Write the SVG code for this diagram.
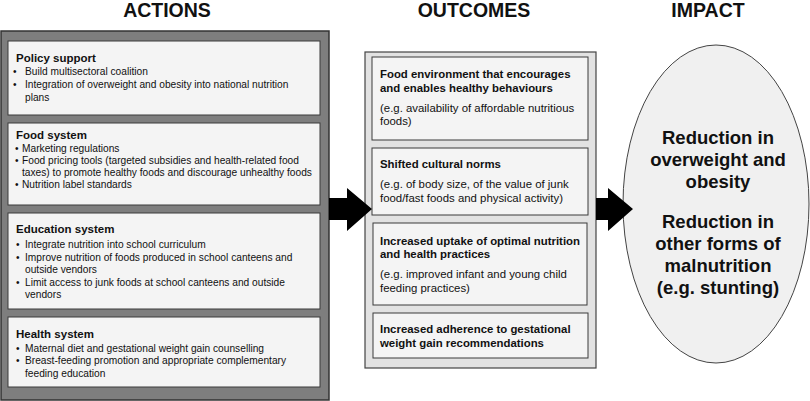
<svg xmlns="http://www.w3.org/2000/svg" width="810" height="401" viewBox="0 0 810 401">
<style>
text{font-family:"Liberation Sans",Arial,sans-serif;fill:#111}
.hdr{font-size:19.5px;font-weight:bold;text-anchor:middle}
.ib{fill:#f4f4f4;stroke:#3a3a3a;stroke-width:1}
.at{font-size:11.5px;font-weight:bold}
.ai{font-size:10.2px}
.ot{font-size:11.4px;font-weight:bold}
.oi{font-size:11.4px}
.im{font-size:18.5px;font-weight:bold;text-anchor:middle}
</style>
<text class="hdr" x="167" y="17">ACTIONS</text>
<text class="hdr" x="474" y="17">OUTCOMES</text>
<text class="hdr" x="708" y="17">IMPACT</text>

<g id="actions">
<rect x="1" y="31" width="328" height="369" fill="#7e7e7e" stroke="#333" stroke-width="1.5"/>
<g id="policy">
<rect class="ib" x="8" y="41" width="312" height="74"/>
<text class="at" x="16" y="62">Policy support</text>
<text class="ai" x="13" y="75">•</text><text class="ai" x="25" y="75">Build multisectoral coalition</text>
<text class="ai" x="13" y="88">•</text><text class="ai" x="25" y="88">Integration of overweight and obesity into national nutrition</text>
<text class="ai" x="25" y="101">plans</text>
</g>
<g id="food">
<rect class="ib" x="8" y="123" width="312" height="82"/>
<text class="at" x="16" y="139">Food system</text>
<text class="ai" x="15" y="152">•</text><text class="ai" x="22" y="152">Marketing regulations</text>
<text class="ai" x="15" y="164">•</text><text class="ai" x="22" y="164">Food pricing tools (targeted subsidies and health-related food</text>
<text class="ai" x="22" y="176">taxes) to promote healthy foods and discourage unhealthy foods</text>
<text class="ai" x="15" y="188">•</text><text class="ai" x="22" y="188">Nutrition label standards</text>
</g>
<g id="education">
<rect class="ib" x="8" y="213" width="312" height="96"/>
<text class="at" x="16" y="233">Education system</text>
<text class="ai" x="16" y="248">•</text><text class="ai" x="25" y="248">Integrate nutrition into school curriculum</text>
<text class="ai" x="16" y="261">•</text><text class="ai" x="25" y="261">Improve nutrition of foods produced in school canteens and</text>
<text class="ai" x="25" y="273">outside vendors</text>
<text class="ai" x="16" y="286">•</text><text class="ai" x="25" y="286">Limit access to junk foods at school canteens and outside</text>
<text class="ai" x="25" y="298">vendors</text>
</g>
<g id="health">
<rect class="ib" x="8" y="317" width="312" height="70"/>
<text class="at" x="16" y="338">Health system</text>
<text class="ai" x="16" y="352">•</text><text class="ai" x="25" y="352">Maternal diet and gestational weight gain counselling</text>
<text class="ai" x="16" y="364">•</text><text class="ai" x="25" y="364">Breast-feeding promotion and appropriate complementary</text>
<text class="ai" x="25" y="377">feeding education</text>
</g>
</g>

<g id="outcomes">
<rect x="365" y="52" width="231" height="316" fill="#e2e2e2" stroke="#444" stroke-width="1.2"/>
<g id="o1">
<rect class="ib" x="372" y="57" width="216" height="83"/>
<text class="ot" x="380" y="78">Food environment that encourages</text>
<text class="ot" x="380" y="92">and enables healthy behaviours</text>
<text class="oi" x="380" y="112">(e.g. availability of affordable nutritious</text>
<text class="oi" x="380" y="125">foods)</text>
</g>
<g id="o2">
<rect class="ib" x="372" y="148" width="216" height="67"/>
<text class="ot" x="380" y="168">Shifted cultural norms</text>
<text class="oi" x="380" y="188">(e.g. of body size, of the value of junk</text>
<text class="oi" x="380" y="202">food/fast foods and physical activity)</text>
</g>
<g id="o3">
<rect class="ib" x="373" y="223" width="214" height="82"/>
<text class="ot" x="380" y="245">Increased uptake of optimal nutrition</text>
<text class="ot" x="380" y="258">and health practices</text>
<text class="oi" x="380" y="278">(e.g. improved infant and young child</text>
<text class="oi" x="380" y="292">feeding practices)</text>
</g>
<g id="o4">
<rect class="ib" x="373" y="313" width="215" height="45"/>
<text class="ot" x="380" y="333">Increased adherence to gestational</text>
<text class="ot" x="380" y="347">weight gain recommendations</text>
</g>
</g>

<g id="impact">
<ellipse cx="716" cy="204" rx="93" ry="159" fill="#f0f0f0" stroke="#444" stroke-width="1"/>
<text class="im" x="718" y="144">Reduction in</text>
<text class="im" x="718" y="166">overweight and</text>
<text class="im" x="718" y="188">obesity</text>
<text class="im" x="718" y="228">Reduction in</text>
<text class="im" x="718" y="250">other forms of</text>
<text class="im" x="718" y="272">malnutrition</text>
<text class="im" x="718" y="294">(e.g. stunting)</text>
</g>

<g id="connectors" fill="#000">
<polygon points="329,198 347,198 347,188 372,209 347,231 347,220 329,220"/>
<polygon points="596,198 608,198 608,188 633,209 608,231 608,220 596,220"/>
</g>
</svg>
